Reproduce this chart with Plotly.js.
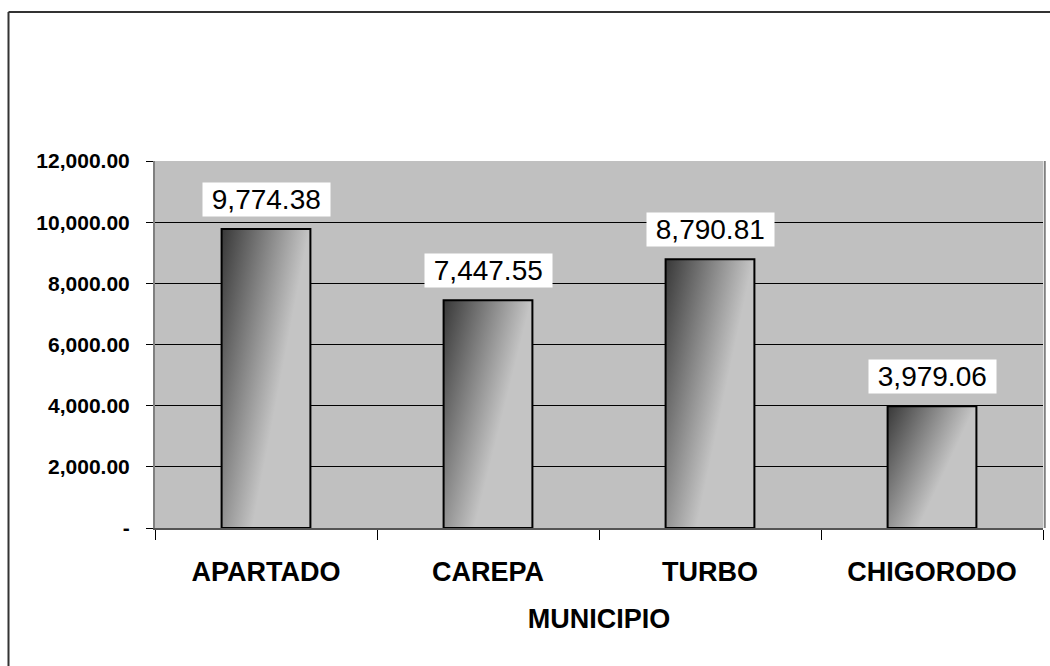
<!DOCTYPE html>
<html>
<head>
<meta charset="utf-8">
<script src="https://cdn.plot.ly/plotly-3.0.1.min.js"></script>
<style>
html,body{margin:0;padding:0;background:#fff;}
#chart{width:1050px;height:666px;}
</style>
</head>
<body>
<div id="chart"></div>
<script>
const categories = ["APARTADO", "CAREPA", "TURBO", "CHIGORODO"];
const values = [9774.38, 7447.55, 8790.81, 3979.06];
const labels = ["9,774.38", "7,447.55", "8,790.81", "3,979.06"];
const yTickVals = [0, 2000, 4000, 6000, 8000, 10000, 12000];
const yTickText = ["-", "2,000.00", "4,000.00", "6,000.00", "8,000.00", "10,000.00", "12,000.00"];
const xTitle = "MUNICIPIO";

const trace = {
  type: "bar",
  x: categories,
  y: values,
  width: 0.4,
  marker: { color: "#8a8a8a", line: { color: "#000", width: 2 } },
  hoverinfo: "skip"
};

const annotations = categories.map((c, i) => ({
  x: c, y: values[i], xref: "x", yref: "y",
  text: "\u00a0" + labels[i] + "\u00a0", showarrow: false,
  yanchor: "bottom", yshift: 12,
  bgcolor: "#fff", borderpad: 1,
  font: { family: "Arial, 'Liberation Sans', sans-serif", size: 28, color: "#000" }
}));

const layout = {
  width: 1050, height: 666,
  margin: { l: 155, r: 7, t: 161, b: 138 },
  paper_bgcolor: "#fff",
  plot_bgcolor: "#c0c0c0",
  showlegend: false,
  font: { family: "Arial, 'Liberation Sans', sans-serif", color: "#000" },
  xaxis: {
    type: "category",
    tickson: "boundaries",
    ticks: "outside", ticklen: 10, tickcolor: "#000", tickwidth: 1,
    tickfont: { size: 27, family: "Arial, 'Liberation Sans', sans-serif", weight: "bold" },
    ticklabelstandoff: 19,
    showline: true, linecolor: "#555", linewidth: 2, mirror: false,
    showgrid: false,
    title: { text: "<b>" + xTitle + "</b>", font: { size: 27, family: "Arial, 'Liberation Sans', sans-serif" }, standoff: 23 }
  },
  yaxis: {
    range: [0, 12000],
    tickvals: yTickVals, ticktext: yTickText,
    ticks: "outside", ticklen: 7, tickcolor: "#000", tickwidth: 1,
    tickfont: { size: 21, family: "Arial, 'Liberation Sans', sans-serif", weight: "bold" },
    ticklabelstandoff: 12,
    showgrid: true, gridcolor: "#000", gridwidth: 1,
    zeroline: false,
    showline: true, linecolor: "#808080", linewidth: 2
  },
  shapes: [
    { type: "line", xref: "paper", yref: "paper", x0: 1.002, x1: 1.002, y0: 0, y1: 1, line: { color: "#808080", width: 2 } },
    { type: "line", xref: "paper", yref: "paper", x0: (8.5 - 155) / 888, x1: (8.5 - 155) / 888, y0: (528 - 12) / 367, y1: -0.5, line: { color: "#333", width: 2 } },
    { type: "line", xref: "paper", yref: "paper", x0: (8.5 - 155) / 888, x1: 1.02, y0: (528 - 12) / 367, y1: (528 - 12) / 367, line: { color: "#333", width: 2 } }
  ],
  annotations: annotations
};

Plotly.newPlot("chart", [trace], layout, { displayModeBar: false, staticPlot: true }).then(function (gd) {
  const svg = gd.querySelector(".main-svg");
  let defs = svg.querySelector("defs");
  const ns = "http://www.w3.org/2000/svg";
  if (!defs) { defs = document.createElementNS(ns, "defs"); svg.insertBefore(defs, svg.firstChild); }
  const g = document.createElementNS(ns, "linearGradient");
  g.setAttribute("id", "barGrad");
  g.setAttribute("x1", "0"); g.setAttribute("y1", "0");
  g.setAttribute("x2", "0.7"); g.setAttribute("y2", "0.45");
  [["0", "#383838"], ["1", "#c4c4c4"]].forEach(function (s) {
    const st = document.createElementNS(ns, "stop");
    st.setAttribute("offset", s[0]); st.setAttribute("stop-color", s[1]);
    g.appendChild(st);
  });
  defs.appendChild(g);
  gd.querySelectorAll(".bars .point path").forEach(function (p) {
    p.style.fill = "url(#barGrad)";
  });
});
</script>
</body>
</html>
